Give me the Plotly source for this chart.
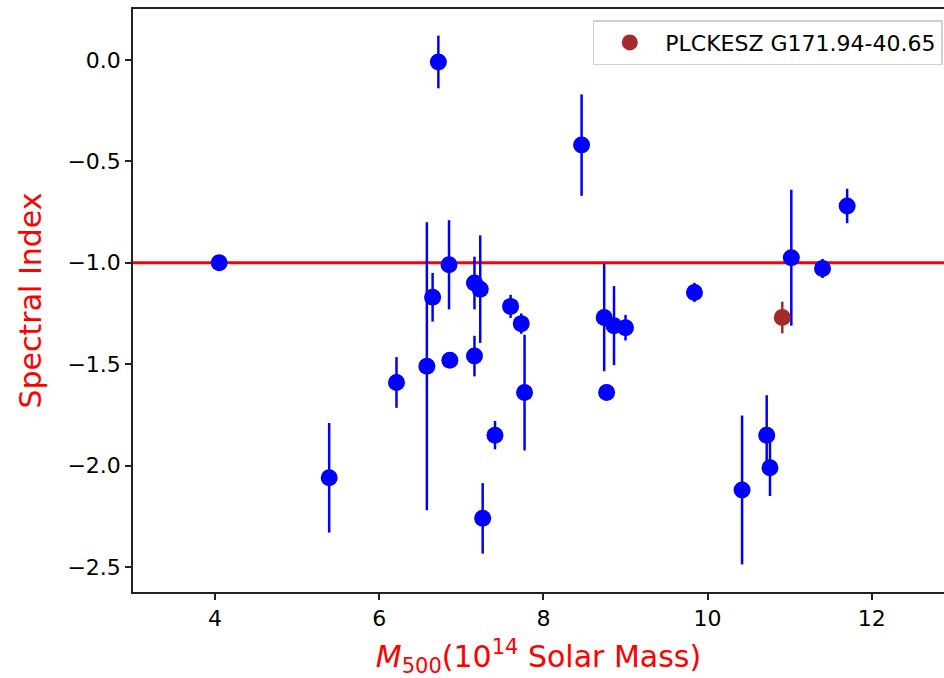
import plotly.graph_objects as go

# Blue clusters: mass (1e14 Msun), spectral index, symmetric error
mass = [4.05, 5.39, 6.21, 6.58, 6.65, 6.72, 6.85, 6.86, 7.16, 7.16, 7.23, 7.26, 7.41, 7.60,
        7.73, 7.77, 8.465, 8.74, 8.77, 8.86, 9.00, 9.84, 10.42, 10.72, 10.76, 11.02, 11.40, 11.70]
spec_index = [-1.00, -2.06, -1.59, -1.51, -1.17, -0.01, -1.01, -1.48, -1.10, -1.46, -1.13, -2.26,
              -1.85, -1.215, -1.30, -1.64, -0.42, -1.27, -1.64, -1.31, -1.32, -1.146, -2.12,
              -1.85, -2.01, -0.975, -1.028, -0.72]
spec_err = [0.0, 0.27, 0.125, 0.71, 0.12, 0.13, 0.22, 0.0, 0.13, 0.10, 0.265, 0.174,
            0.07, 0.057, 0.05, 0.285, 0.25, 0.265, 0.0, 0.195, 0.063, 0.047, 0.367,
            0.197, 0.14, 0.335, 0.047, 0.085]

# Highlighted cluster
hl_name = "PLCKESZ G171.94-40.65"
hl_mass = [10.91]
hl_index = [-1.27]
hl_err = [0.078]

ref_index = -1.0
x_ticks = [4, 6, 8, 10, 12]
y_ticks = [0.0, -0.5, -1.0, -1.5, -2.0, -2.5]

FONT = "DejaVu Sans"

fig = go.Figure()
fig.add_trace(go.Scatter(
    x=mass, y=spec_index, mode="markers",
    marker=dict(color="#0000ff", size=17),
    error_y=dict(type="data", array=spec_err, visible=True, color="#0000ff",
                 thickness=2.5, width=0),
    showlegend=False,
))
fig.add_trace(go.Scatter(
    x=hl_mass, y=hl_index, mode="markers", name=hl_name,
    marker=dict(color="#a52a2a", size=17),
    error_y=dict(type="data", array=hl_err, visible=True, color="#a52a2a",
                 thickness=2.5, width=0),
))
fig.add_hline(y=ref_index, line=dict(color="#ff0000", width=3), layer="below")

fig.update_layout(
    width=944, height=678,
    margin=dict(l=133, r=0, t=9, b=86),
    paper_bgcolor="white", plot_bgcolor="white",
    font=dict(family=FONT, size=22, color="black"),
    showlegend=True,
    legend=dict(x=0.9985, y=0.981, xanchor="right", yanchor="top",
                bgcolor="white", bordercolor="#d0d0d0", borderwidth=1.5,
                font=dict(size=22), itemwidth=61),
    xaxis=dict(range=[3.0, 12.88], tickvals=x_ticks, ticktext=[str(v) for v in x_ticks],
               showgrid=False, zeroline=False, showline=True, linecolor="#222",
               linewidth=1.5, mirror=True, ticks="outside", ticklen=6, tickwidth=1.5,
               tickcolor="#222",
               title=dict(text="<i>M</i><sub>500</sub>(10<sup>14</sup> Solar Mass)",
                          font=dict(size=30, color="#ff0000"), standoff=19)),
    yaxis=dict(range=[-2.623, 0.251], tickvals=y_ticks,
               ticktext=[("\u2212" if v < 0 else "") + f"{abs(v):.1f}" for v in y_ticks],
               showgrid=False, zeroline=False, showline=True, linecolor="#222",
               linewidth=1.5, mirror=False, ticks="outside", ticklen=6, tickwidth=1.5,
               tickcolor="#222",
               title=dict(text="Spectral Index", font=dict(size=30, color="#ff0000"),
                          standoff=17)),
)

fig.write_html("out.html")
